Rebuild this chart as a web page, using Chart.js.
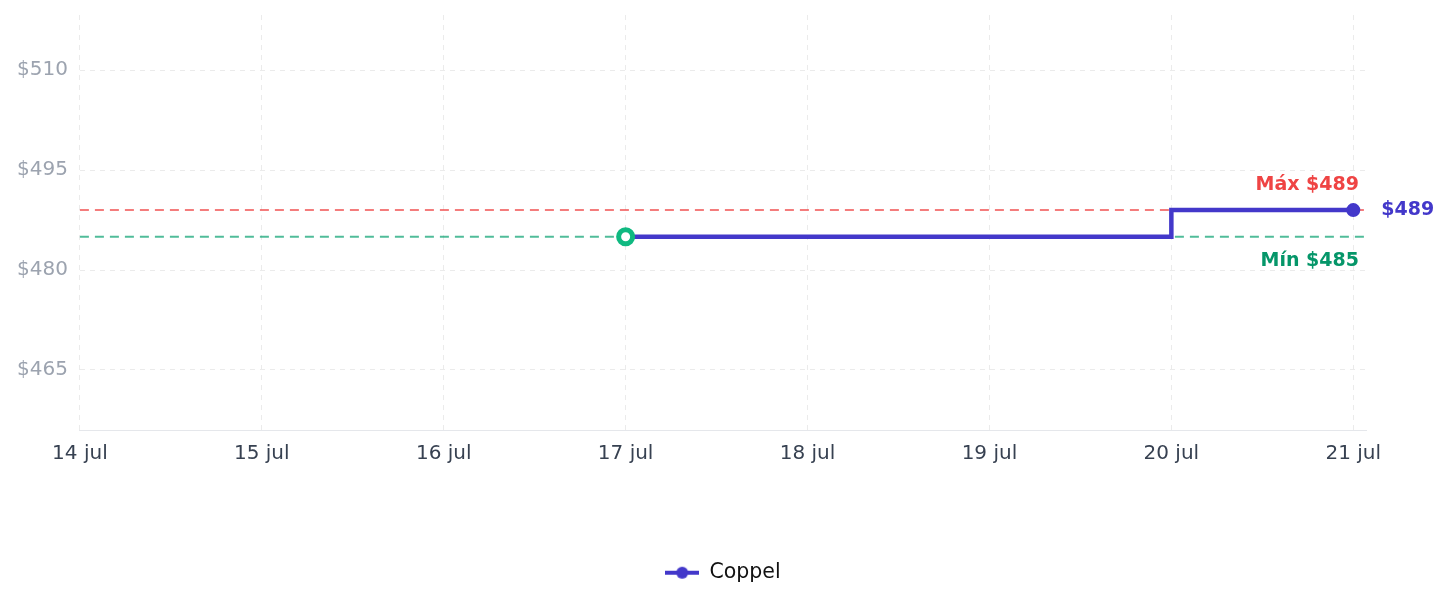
<!DOCTYPE html>
<html>
<head>
<meta charset="utf-8">
<script src="https://cdn.jsdelivr.net/npm/chart.js@4"></script>
<style>
  html, body { margin: 0; padding: 0; background: #fff; }
  #wrap { width: 1447px; height: 607px; }
</style>
</head>
<body>
<div id="wrap"><canvas id="chart"></canvas></div>
<script>
const days = ['14 jul', '15 jul', '16 jul', '17 jul', '18 jul', '19 jul', '20 jul', '21 jul'];
const prices = [null, null, null, 485, 485, 485, 489, 489];
const yTicks = [465, 480, 495, 510];
const maxPrice = 489;
const minPrice = 485;
const storeName = 'Coppel';

const PURPLE = '#4338ca';

Chart.defaults.font.family = '"DejaVu Sans", sans-serif';
Chart.defaults.font.size = 20;

// legend icon: short line with a dot in the middle
const legendIcon = document.createElement('canvas');
legendIcon.width = 34;
legendIcon.height = 14;
{
  const c = legendIcon.getContext('2d');
  c.strokeStyle = PURPLE;
  c.lineWidth = 4;
  c.beginPath();
  c.moveTo(0, 7);
  c.lineTo(34, 7);
  c.stroke();
  c.fillStyle = PURPLE;
  c.beginPath();
  c.arc(17, 7, 6, 0, Math.PI * 2);
  c.fill();
}

const lastIdx = prices.length - 1;
const firstIdx = prices.findIndex((p) => p !== null);

const refLines = {
  id: 'refLines',
  beforeDatasetsDraw(chart) {
    const { ctx, chartArea: a, scales: { y } } = chart;
    const dashed = (v, color) => {
      const py = y.getPixelForValue(v);
      ctx.save();
      ctx.strokeStyle = color;
      ctx.lineWidth = 2;
      ctx.setLineDash([9, 6]);
      ctx.beginPath();
      ctx.moveTo(a.left, py);
      ctx.lineTo(a.right, py);
      ctx.stroke();
      ctx.restore();
    };
    dashed(maxPrice, 'rgba(239, 68, 68, 0.7)');
    dashed(minPrice, 'rgba(5, 160, 110, 0.7)');
  },
  afterDatasetsDraw(chart) {
    const { ctx, chartArea: a, scales: { y } } = chart;
    ctx.save();
    ctx.font = 'bold 19px "DejaVu Sans", sans-serif';
    ctx.textBaseline = 'middle';
    ctx.textAlign = 'right';
    ctx.fillStyle = '#ef4444';
    ctx.fillText('Máx $' + maxPrice, a.right - 7, y.getPixelForValue(maxPrice) - 25);
    ctx.fillStyle = '#059669';
    ctx.fillText('Mín $' + minPrice, a.right - 7, y.getPixelForValue(minPrice) + 24);

    const pt = chart.getDatasetMeta(0).data[lastIdx];
    ctx.textAlign = 'left';
    ctx.fillStyle = PURPLE;
    ctx.fillText('$' + prices[lastIdx], pt.x + 28, pt.y);
    ctx.restore();
  },
};

new Chart(document.getElementById('chart'), {
  type: 'line',
  data: {
    datasets: [
      {
        label: storeName,
        data: prices.map((p, i) => ({ x: i, y: p })),
        borderColor: PURPLE,
        backgroundColor: PURPLE,
        borderWidth: 4.5,
        stepped: 'before',
        fill: false,
        pointRadius: prices.map((_, i) => (i === firstIdx ? 7 : i === lastIdx ? 6 : 0)),
        pointBorderWidth: prices.map((_, i) => (i === firstIdx ? 5 : 2)),
        pointBackgroundColor: prices.map((_, i) => (i === firstIdx ? '#ffffff' : PURPLE)),
        pointBorderColor: prices.map((_, i) => (i === firstIdx ? '#10b981' : PURPLE)),
        pointHoverRadius: 0,
      },
    ],
  },
  options: {
    responsive: true,
    maintainAspectRatio: false,
    animation: false,
    events: [],
    layout: { padding: { top: 15, right: 81, bottom: 14, left: 5 } },
    scales: {
      x: {
        type: 'linear',
        min: 0,
        max: 7.07,
        afterBuildTicks: (s) => {
          s.ticks = days.map((_, i) => ({ value: i }));
        },
        ticks: {
          color: '#374151',
          padding: 11,
          maxRotation: 0,
          callback: (v) => days[v],
        },
        grid: { color: '#ebebeb', lineWidth: 1, drawTicks: false },
        border: { display: true, color: '#e5e7eb', width: 1, dash: [5, 5] },
      },
      y: {
        min: 455.9,
        max: 518.3,
        afterBuildTicks: (s) => {
          s.ticks = yTicks.map((v) => ({ value: v }));
        },
        afterFit: (s) => {
          s.paddingTop = 0;
        },
        ticks: {
          color: '#9ca3af',
          padding: 12,
          callback: (v) => '$' + v,
        },
        grid: { color: '#ebebeb', lineWidth: 1, drawTicks: false },
        border: { display: false, dash: [5, 5] },
      },
    },
    plugins: {
      tooltip: { enabled: false },
      legend: {
        position: 'bottom',
        fullSize: false,
        labels: {
          color: '#111111',
          usePointStyle: true,
          pointStyle: legendIcon,
          pointStyleWidth: 34,
          padding: 86,
          font: { size: 20.5 },
        },
      },
    },
  },
  plugins: [refLines],
});
</script>
</body>
</html>
